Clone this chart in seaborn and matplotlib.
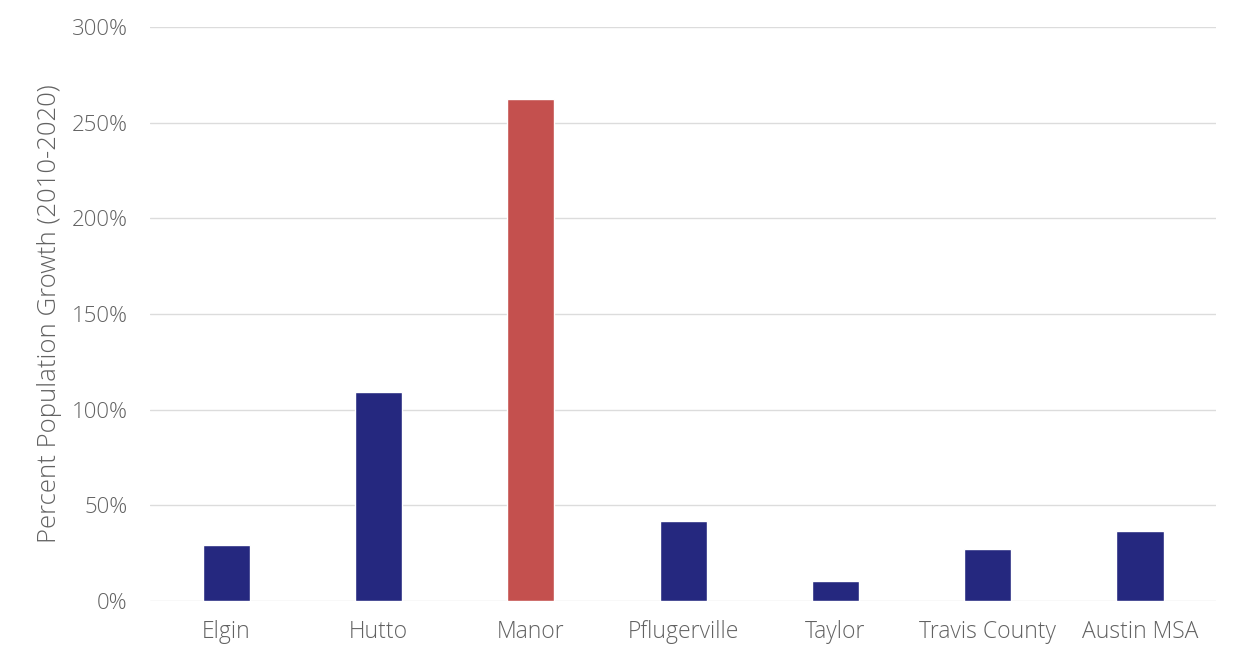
import pandas as pd
import seaborn as sns
import matplotlib.pyplot as plt
from matplotlib.ticker import FuncFormatter

# values
places = ["Elgin", "Hutto", "Manor", "Pflugerville", "Taylor", "Travis County", "Austin MSA"]
growth = [29.3, 109.2, 262.7, 42.0, 10.5, 27.2, 36.7]
highlight = "Manor"

navy = "#25287f"
red = "#c4504e"
grey_text = "#626262"

df = pd.DataFrame({"place": places, "growth": growth})
palette = {p: (red if p == highlight else navy) for p in places}

sns.set_theme(style="white")
plt.rcParams["font.family"] = ["Open Sans", "DejaVu Sans"]
plt.rcParams["font.weight"] = "light"

fig = plt.figure(figsize=(12.34, 6.49), dpi=100)
ax = fig.add_axes([0.1216, 0.074, 0.864, 0.884])

sns.barplot(data=df, x="place", y="growth", hue="place", palette=palette,
            width=0.31, legend=False, ax=ax, saturation=1)

ax.set_ylim(0, 300)
ax.set_yticks(range(0, 301, 50))
ax.yaxis.set_major_formatter(FuncFormatter(lambda v, _: f"{v:.0f}%"))
ax.grid(axis="y", color="#dcdcdc", linewidth=1)
ax.set_axisbelow(True)
for s in ax.spines.values():
    s.set_visible(False)
ax.tick_params(axis="both", length=0, labelsize=16, colors=grey_text)
ax.tick_params(axis="x", pad=14, labelsize=16.5)
ax.tick_params(axis="y", pad=16)
for lbl in ax.get_xticklabels() + ax.get_yticklabels():
    lbl.set_fontweight("light")
ax.set_xlabel("")
ax.set_ylabel("Percent Population Growth (2010-2020)", fontsize=18.5, color=grey_text,
              fontweight="light", labelpad=7)

fig.savefig("out.png", dpi=100)
